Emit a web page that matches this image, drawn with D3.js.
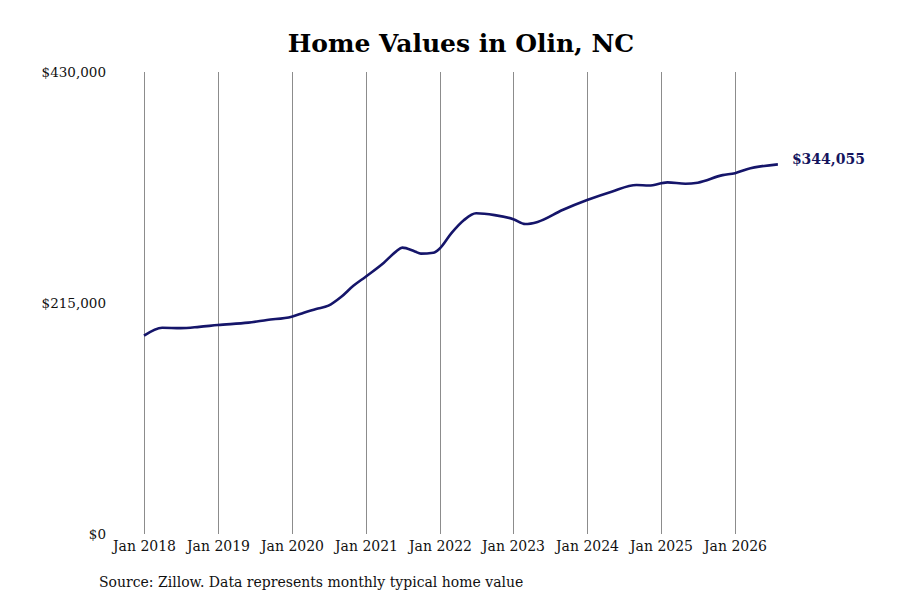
<!DOCTYPE html>
<html>
<head>
<meta charset="utf-8">
<script src="https://cdn.jsdelivr.net/npm/d3@7"></script>
<style>
  body { margin: 0; background: #fff; }
  text { font-family: "DejaVu Serif", serif; }
</style>
</head>
<body>
<svg id="chart" width="900" height="600"></svg>
<script>
// monthly typical home value
var months = ["2018-01","2018-04","2018-07","2018-10","2019-01","2019-06","2019-09",
  "2020-01","2020-03","2020-05","2020-07","2020-09","2020-11","2021-01","2021-04",
  "2021-06","2021-07","2021-09","2021-10","2021-12","2022-01","2022-03","2022-05",
  "2022-07","2022-10","2023-01","2023-03","2023-05","2023-09","2024-01","2024-05",
  "2024-09","2024-11","2025-02","2025-05","2025-07","2025-11","2026-01","2026-03","2026-08"];
var values = [184600,192000,191600,192800,194500,196700,199200,
  202300,206000,209500,212500,220500,231000,239500,252500,
  263000,266500,263000,261000,261800,265500,280000,292000,
  298500,296800,293000,288500,290500,301500,310800,318600,
  324800,324400,327300,326000,327000,334000,335800,339500,344055];
var yTicks = [0, 215000, 430000];
var xTickYears = [2018, 2019, 2020, 2021, 2022, 2023, 2024, 2025, 2026];

var parse = d3.timeParse("%Y-%m");
var data = months.map(function(m, i) { return {date: parse(m), value: values[i]}; });

var svg = d3.select("#chart");

var x = d3.scaleTime()
  .domain([new Date(2018, 0, 1), new Date(2026, 0, 1)])
  .range([144, 735]);

var y = d3.scaleLinear()
  .domain([0, 430000])
  .range([534, 72]);

// title
svg.append("text")
  .attr("x", 461)
  .attr("y", 52)
  .attr("text-anchor", "middle")
  .style("font-size", "25px")
  .style("font-weight", "bold")
  .text("Home Values in Olin, NC");

// vertical grid at each January
var grid = svg.append("g");
xTickYears.forEach(function(yr) {
  var gx = Math.round(x(new Date(yr, 0, 1))) + 0.5;
  grid.append("line")
    .attr("x1", gx).attr("x2", gx)
    .attr("y1", y(430000)).attr("y2", y(0))
    .attr("stroke", "#8c8c8c")
    .attr("stroke-width", 1);
  grid.append("text")
    .attr("x", gx)
    .attr("y", 551)
    .attr("text-anchor", "middle")
    .style("font-size", "14px")
    .attr("fill", "#111")
    .text("Jan " + yr);
});

// y labels
svg.selectAll(".ylab")
  .data(yTicks)
  .enter().append("text")
    .attr("class", "ylab")
    .attr("x", 106)
    .attr("y", function(d) { return y(d) + 5; })
    .attr("text-anchor", "end")
    .style("font-size", "13.5px")
    .attr("fill", "#111")
    .text(function(d) { return "$" + d3.format(",")(d); });

// line
var line = d3.line()
  .curve(d3.curveMonotoneX)
  .x(function(d) { return x(d.date); })
  .y(function(d) { return y(d.value); });

svg.append("path")
  .datum(data)
  .attr("fill", "none")
  .attr("stroke", "#15156a")
  .attr("stroke-width", 2.6)
  .attr("stroke-linejoin", "round")
  .attr("d", line);

// end label
var last = data[data.length - 1];
svg.append("text")
  .attr("x", x(last.date) + 14)
  .attr("y", y(last.value))
  .style("font-size", "14px")
  .style("font-weight", "bold")
  .attr("fill", "#15155e")
  .text("$" + d3.format(",")(last.value));

// source
svg.append("text")
  .attr("x", 99)
  .attr("y", 587)
  .style("font-size", "14px")
  .attr("fill", "#111")
  .text("Source: Zillow. Data represents monthly typical home value");
</script>
</body>
</html>
